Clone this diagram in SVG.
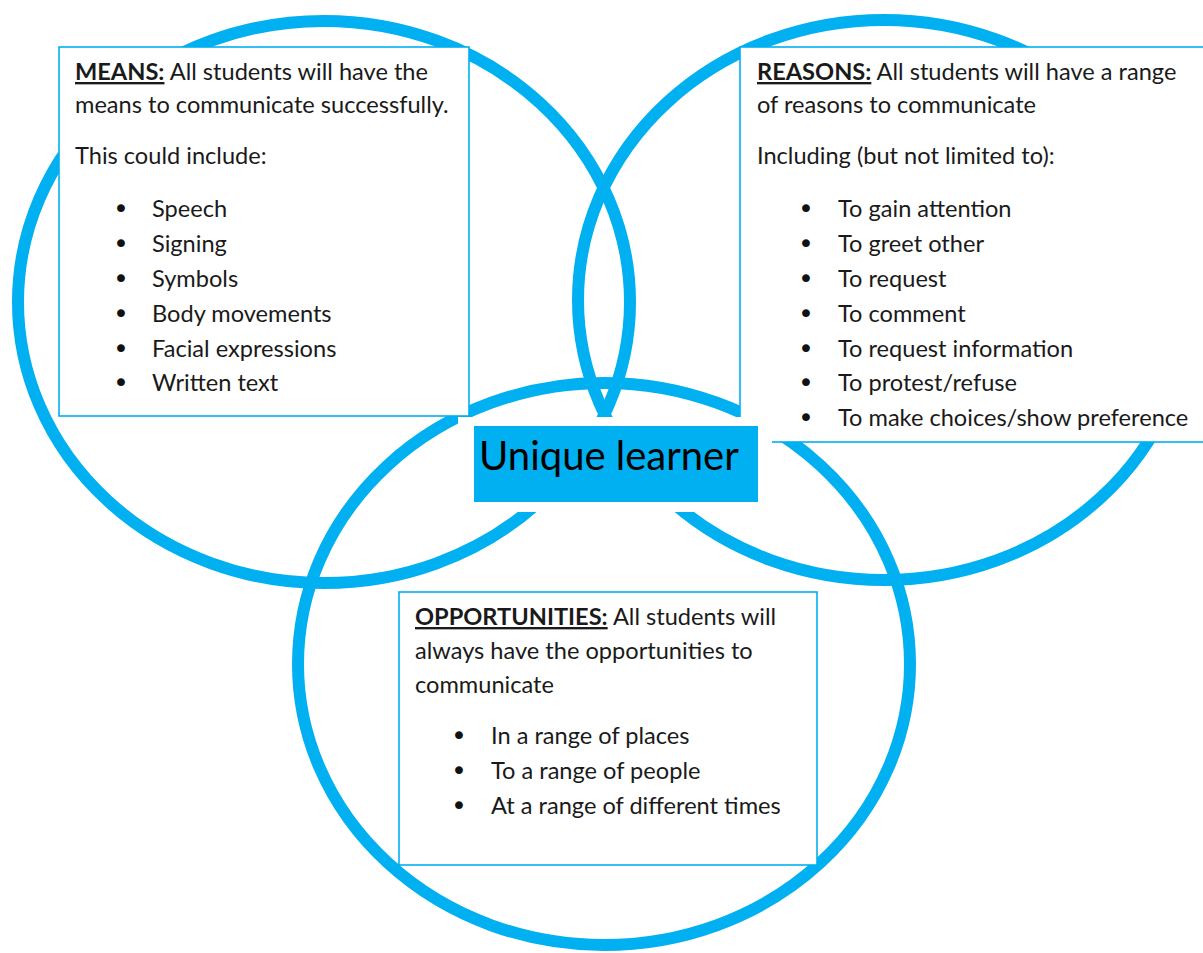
<svg xmlns="http://www.w3.org/2000/svg" width="1203" height="953" viewBox="0 0 1203 953">
<style>
.ring{fill:none;stroke:#00B0F0;stroke-width:12}
.box{fill:#fff;stroke:#00B0F0;stroke-width:1.6}
.t{font-family:Lato,"Open Sans",sans-serif;font-size:23.6px;fill:#1a1a1a}
.b{font-weight:bold;text-decoration:underline}
.bul{font-family:"DejaVu Sans",sans-serif;font-size:27px;fill:#111;text-anchor:middle}
.big{font-family:Lato,"Open Sans",sans-serif;font-size:40px;fill:#000}
</style>
<rect width="1203" height="953" fill="#fff"/>
<g id="rings">
<ellipse id="ring-means" class="ring" cx="324" cy="302" rx="306" ry="281"/>
<ellipse id="ring-reasons" class="ring" cx="884" cy="300" rx="306" ry="280"/>
<ellipse id="ring-opportunities" class="ring" cx="604" cy="664" rx="306" ry="281"/>
</g>
<g id="connectors"/>
<g id="means">
<rect class="box" x="59" y="47" width="410" height="369"/>
<text class="t" x="75" y="80"><tspan class="b">MEANS:</tspan> All students will have the</text>
<text class="t" x="75" y="113">means to communicate successfully.</text>
<text class="t" x="75" y="164">This could include:</text>
<g class="bul"><text x="121" y="218">•</text><text x="121" y="253">•</text><text x="121" y="288">•</text><text x="121" y="323">•</text><text x="121" y="358">•</text><text x="121" y="392">•</text></g>
<text class="t" x="152" y="217">Speech</text>
<text class="t" x="152" y="252">Signing</text>
<text class="t" x="152" y="287">Symbols</text>
<text class="t" x="152" y="322">Body movements</text>
<text class="t" x="152" y="357">Facial expressions</text>
<text class="t" x="152" y="391">Written text</text>
</g>
<g id="reasons">
<rect class="box" x="740" y="47" width="480" height="395"/>
<text class="t" x="757" y="80"><tspan class="b">REASONS:</tspan> All students will have a range</text>
<text class="t" x="757" y="113">of reasons to communicate</text>
<text class="t" x="757" y="164">Including (but not limited to):</text>
<g class="bul"><text x="806" y="218">•</text><text x="806" y="253">•</text><text x="806" y="288">•</text><text x="806" y="323">•</text><text x="806" y="358">•</text><text x="806" y="392">•</text><text x="806" y="427">•</text></g>
<text class="t" x="838" y="217">To gain attention</text>
<text class="t" x="838" y="252">To greet other</text>
<text class="t" x="838" y="287">To request</text>
<text class="t" x="838" y="322">To comment</text>
<text class="t" x="838" y="357">To request information</text>
<text class="t" x="838" y="391">To protest/refuse</text>
<text class="t" x="838" y="426">To make choices/show preference</text>
</g>
<g id="opportunities">
<rect class="box" x="399" y="592" width="418" height="273"/>
<text class="t" x="415" y="625"><tspan class="b">OPPORTUNITIES:</tspan> All students will</text>
<text class="t" x="415" y="659">always have the opportunities to</text>
<text class="t" x="415" y="693">communicate</text>
<g class="bul"><text x="459" y="745">•</text><text x="459" y="780">•</text><text x="459" y="815">•</text></g>
<text class="t" x="491" y="744">In a range of places</text>
<text class="t" x="491" y="779">To a range of people</text>
<text class="t" x="491" y="814">At a range of different times</text>
</g>
<g id="unique-learner">
<rect x="458" y="417" width="314" height="95" fill="#fff"/>
<rect x="474" y="426" width="284" height="76" fill="#00B0F0"/>
<text class="big" x="479" y="470">Unique learner</text>
</g>
</svg>
